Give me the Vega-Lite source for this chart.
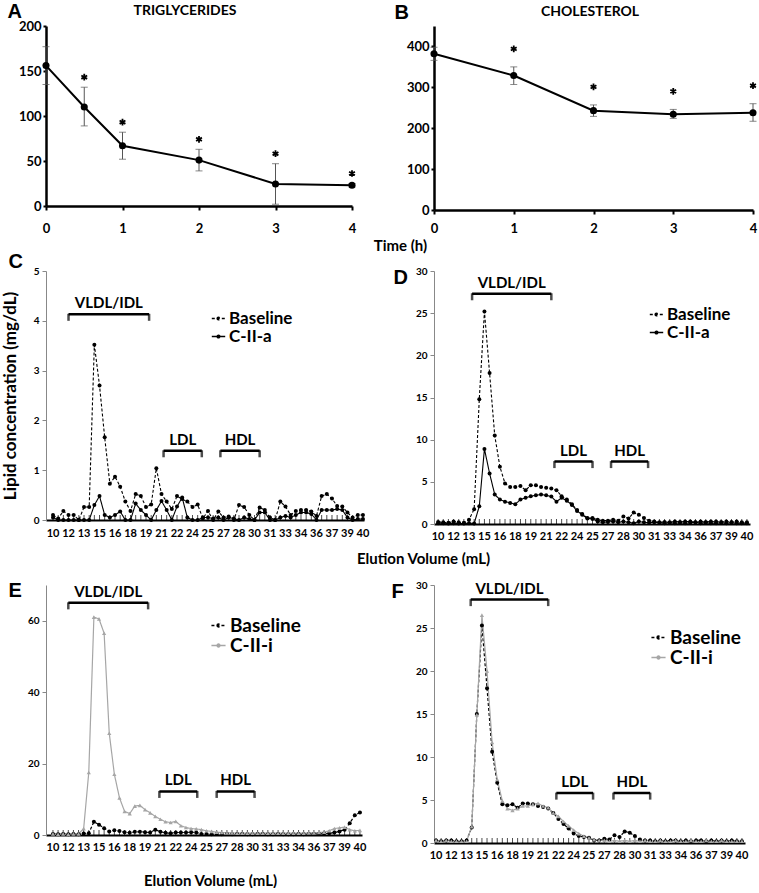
{
  "$schema": "https://vega.github.io/schema/vega-lite/v6.json",
  "autosize": {"type": "pad"},
  "padding": {"left": 1, "top": 1, "right": 0, "bottom": 0},
  "background": "white",
  "bounds": "flush",
  "columns": 2,
  "align": "each",
  "spacing": {"row": 61, "column": 70},
  "resolve": {
    "scale": {"color": "independent", "strokeDash": "independent"},
    "legend": {"color": "independent", "strokeDash": "independent"}
  },
  "config": {
    "view": {"stroke": null},
    "font": "Lato",
    "axis": {"labelFont": "Lato", "labelFontWeight": "bold", "labelColor": "#000", "titleFont": "Lato", "titleFontWeight": "bold", "titleColor": "#000", "grid": false, "domainColor": "#000", "tickColor": "#000"},
    "legend": {"labelFont": "Lato", "labelFontWeight": "bold", "labelColor": "#000"},
    "title": {"color": "#000"}
  },
  "datasets": {
    "tc": [
      {"panel": "A", "t": 0, "mean": 156, "lo": 135, "hi": 177},
      {"panel": "A", "t": 0.5, "mean": 110, "lo": 89, "hi": 132},
      {"panel": "A", "t": 1, "mean": 67, "lo": 52, "hi": 82},
      {"panel": "A", "t": 2, "mean": 51, "lo": 39, "hi": 63},
      {"panel": "A", "t": 3, "mean": 24.5, "lo": 2, "hi": 47},
      {"panel": "A", "t": 4, "mean": 23, "lo": 21, "hi": 25},
      {"panel": "B", "t": 0, "mean": 382, "lo": 366, "hi": 398},
      {"panel": "B", "t": 1, "mean": 329, "lo": 307, "hi": 350},
      {"panel": "B", "t": 2, "mean": 243, "lo": 229, "hi": 257},
      {"panel": "B", "t": 3, "mean": 234, "lo": 224, "hi": 246},
      {"panel": "B", "t": 4, "mean": 238, "lo": 217, "hi": 260}
    ],
    "C": [
      {"v": 10, "Baseline": 0.1, "C-II-a": 0.05}, {"v": 10.5, "Baseline": 0.03, "C-II-a": 0}, {"v": 11, "Baseline": 0.18, "C-II-a": 0}, {"v": 11.5, "Baseline": 0.1, "C-II-a": 0},
      {"v": 12, "Baseline": 0.1, "C-II-a": 0}, {"v": 12.5, "Baseline": 0, "C-II-a": 0}, {"v": 13, "Baseline": 0.26, "C-II-a": 0}, {"v": 13.5, "Baseline": 0.26, "C-II-a": 0},
      {"v": 14, "Baseline": 3.52, "C-II-a": 0.3}, {"v": 14.5, "Baseline": 2.7, "C-II-a": 0.48}, {"v": 15, "Baseline": 1.66, "C-II-a": 0.1}, {"v": 15.5, "Baseline": 0.73, "C-II-a": 0.05},
      {"v": 16, "Baseline": 0.87, "C-II-a": 0.1}, {"v": 16.5, "Baseline": 0.67, "C-II-a": 0.17}, {"v": 17, "Baseline": 0.37, "C-II-a": 0}, {"v": 17.5, "Baseline": 0.18, "C-II-a": 0},
      {"v": 18, "Baseline": 0.52, "C-II-a": 0.33}, {"v": 18.5, "Baseline": 0.48, "C-II-a": 0.2}, {"v": 19, "Baseline": 0.26, "C-II-a": 0.1}, {"v": 19.5, "Baseline": 0.31, "C-II-a": 0},
      {"v": 20, "Baseline": 1.04, "C-II-a": 0.2}, {"v": 20.5, "Baseline": 0.52, "C-II-a": 0.38}, {"v": 21, "Baseline": 0.37, "C-II-a": 0.2}, {"v": 21.5, "Baseline": 0.22, "C-II-a": 0},
      {"v": 22, "Baseline": 0.48, "C-II-a": 0.27}, {"v": 22.5, "Baseline": 0.42, "C-II-a": 0.45}, {"v": 23, "Baseline": 0.37, "C-II-a": 0.05}, {"v": 23.5, "Baseline": 0.26, "C-II-a": 0},
      {"v": 24, "Baseline": 0.31, "C-II-a": 0}, {"v": 24.5, "Baseline": 0.03, "C-II-a": 0.05}, {"v": 25, "Baseline": 0.18, "C-II-a": 0.05}, {"v": 25.5, "Baseline": 0, "C-II-a": 0.03},
      {"v": 26, "Baseline": 0.17, "C-II-a": 0.05}, {"v": 26.5, "Baseline": 0.05, "C-II-a": 0}, {"v": 27, "Baseline": 0.07, "C-II-a": 0.05}, {"v": 27.5, "Baseline": 0, "C-II-a": 0.03},
      {"v": 28, "Baseline": 0.3, "C-II-a": 0}, {"v": 28.5, "Baseline": 0.26, "C-II-a": 0.05}, {"v": 29, "Baseline": 0.1, "C-II-a": 0.02}, {"v": 29.5, "Baseline": 0, "C-II-a": 0},
      {"v": 30, "Baseline": 0.25, "C-II-a": 0.15}, {"v": 30.5, "Baseline": 0.2, "C-II-a": 0.15}, {"v": 31, "Baseline": 0.05, "C-II-a": 0}, {"v": 31.5, "Baseline": 0, "C-II-a": 0},
      {"v": 32, "Baseline": 0.37, "C-II-a": 0.05}, {"v": 32.5, "Baseline": 0.27, "C-II-a": 0.08}, {"v": 33, "Baseline": 0.1, "C-II-a": 0.05}, {"v": 33.5, "Baseline": 0.18, "C-II-a": 0.1},
      {"v": 34, "Baseline": 0.2, "C-II-a": 0.15}, {"v": 34.5, "Baseline": 0.2, "C-II-a": 0.15}, {"v": 35, "Baseline": 0.17, "C-II-a": 0.12}, {"v": 35.5, "Baseline": 0.08, "C-II-a": 0},
      {"v": 36, "Baseline": 0.48, "C-II-a": 0.2}, {"v": 36.5, "Baseline": 0.52, "C-II-a": 0.2}, {"v": 37, "Baseline": 0.43, "C-II-a": 0.2}, {"v": 37.5, "Baseline": 0.28, "C-II-a": 0.22},
      {"v": 38, "Baseline": 0.27, "C-II-a": 0.2}, {"v": 38.5, "Baseline": 0.15, "C-II-a": 0.05}, {"v": 39, "Baseline": 0.05, "C-II-a": 0}, {"v": 39.5, "Baseline": 0.1, "C-II-a": 0.02},
      {"v": 40, "Baseline": 0.1, "C-II-a": 0.02}
    ],
    "D": [
      {"v": 10, "Baseline": 0.25, "C-II-a": 0.1}, {"v": 10.5, "Baseline": 0.2, "C-II-a": 0.1}, {"v": 11, "Baseline": 0.15, "C-II-a": 0.05}, {"v": 11.5, "Baseline": 0.3, "C-II-a": 0.1},
      {"v": 12, "Baseline": 0.2, "C-II-a": 0.05}, {"v": 12.5, "Baseline": 0.15, "C-II-a": 0.05}, {"v": 13, "Baseline": 0.5, "C-II-a": 0.1}, {"v": 13.5, "Baseline": 1.75, "C-II-a": 0.05},
      {"v": 14, "Baseline": 14.8, "C-II-a": 2.1}, {"v": 14.5, "Baseline": 25.2, "C-II-a": 8.9}, {"v": 15, "Baseline": 17.9, "C-II-a": 6.0}, {"v": 15.5, "Baseline": 10.5, "C-II-a": 3.5},
      {"v": 16, "Baseline": 6.8, "C-II-a": 2.9}, {"v": 16.5, "Baseline": 4.8, "C-II-a": 2.65}, {"v": 17, "Baseline": 4.4, "C-II-a": 2.5}, {"v": 17.5, "Baseline": 4.4, "C-II-a": 2.35},
      {"v": 18, "Baseline": 4.5, "C-II-a": 2.9}, {"v": 18.5, "Baseline": 4.0, "C-II-a": 3.1}, {"v": 19, "Baseline": 4.6, "C-II-a": 3.3}, {"v": 19.5, "Baseline": 4.6, "C-II-a": 3.4},
      {"v": 20, "Baseline": 4.4, "C-II-a": 3.5}, {"v": 20.5, "Baseline": 4.3, "C-II-a": 3.4}, {"v": 21, "Baseline": 4.2, "C-II-a": 3.25}, {"v": 21.5, "Baseline": 4.0, "C-II-a": 2.65},
      {"v": 22, "Baseline": 3.3, "C-II-a": 3.1}, {"v": 22.5, "Baseline": 2.9, "C-II-a": 2.75}, {"v": 23, "Baseline": 2.35, "C-II-a": 2.25}, {"v": 23.5, "Baseline": 1.65, "C-II-a": 1.55},
      {"v": 24, "Baseline": 1.2, "C-II-a": 1.1}, {"v": 24.5, "Baseline": 0.7, "C-II-a": 0.65}, {"v": 25, "Baseline": 0.7, "C-II-a": 0.6}, {"v": 25.5, "Baseline": 0.5, "C-II-a": 0.3},
      {"v": 26, "Baseline": 0.4, "C-II-a": 0.2}, {"v": 26.5, "Baseline": 0.4, "C-II-a": 0.25}, {"v": 27, "Baseline": 0.5, "C-II-a": 0.3}, {"v": 27.5, "Baseline": 0.4, "C-II-a": 0.2},
      {"v": 28, "Baseline": 0.9, "C-II-a": 0.3}, {"v": 28.5, "Baseline": 0.65, "C-II-a": 0.2}, {"v": 29, "Baseline": 1.35, "C-II-a": 0.1}, {"v": 29.5, "Baseline": 1.1, "C-II-a": 0.3},
      {"v": 30, "Baseline": 0.7, "C-II-a": 0.2}, {"v": 30.5, "Baseline": 0.4, "C-II-a": 0.15}, {"v": 31, "Baseline": 0.3, "C-II-a": 0.2}, {"v": 31.5, "Baseline": 0.2, "C-II-a": 0.15},
      {"v": 32, "Baseline": 0.25, "C-II-a": 0.1}, {"v": 32.5, "Baseline": 0.2, "C-II-a": 0.15}, {"v": 33, "Baseline": 0.3, "C-II-a": 0.1}, {"v": 33.5, "Baseline": 0.25, "C-II-a": 0.15},
      {"v": 34, "Baseline": 0.3, "C-II-a": 0.1}, {"v": 34.5, "Baseline": 0.3, "C-II-a": 0.15}, {"v": 35, "Baseline": 0.2, "C-II-a": 0.2}, {"v": 35.5, "Baseline": 0.3, "C-II-a": 0.1},
      {"v": 36, "Baseline": 0.25, "C-II-a": 0.15}, {"v": 36.5, "Baseline": 0.3, "C-II-a": 0.1}, {"v": 37, "Baseline": 0.3, "C-II-a": 0.1}, {"v": 37.5, "Baseline": 0.25, "C-II-a": 0.15},
      {"v": 38, "Baseline": 0.3, "C-II-a": 0.1}, {"v": 38.5, "Baseline": 0.25, "C-II-a": 0.15}, {"v": 39, "Baseline": 0.3, "C-II-a": 0.1}, {"v": 39.5, "Baseline": 0.2, "C-II-a": 0.1},
      {"v": 40, "Baseline": 0.2, "C-II-a": 0.1}
    ],
    "E": [
      {"v": 10, "Baseline": 0.3, "C-II-i": 0.3}, {"v": 10.5, "Baseline": 0.2, "C-II-i": 0.2}, {"v": 11, "Baseline": 0.3, "C-II-i": 0.3}, {"v": 11.5, "Baseline": 0.2, "C-II-i": 0.2},
      {"v": 12, "Baseline": 0.3, "C-II-i": 0.3}, {"v": 12.5, "Baseline": 0.2, "C-II-i": 0.3}, {"v": 13, "Baseline": 0.4, "C-II-i": 1.8}, {"v": 13.5, "Baseline": 0.5, "C-II-i": 17.5},
      {"v": 14, "Baseline": 3.7, "C-II-i": 61}, {"v": 14.5, "Baseline": 2.9, "C-II-i": 60.5}, {"v": 15, "Baseline": 1.9, "C-II-i": 56.5}, {"v": 15.5, "Baseline": 1.0, "C-II-i": 28.5},
      {"v": 16, "Baseline": 1.3, "C-II-i": 17}, {"v": 16.5, "Baseline": 1.1, "C-II-i": 10.4}, {"v": 17, "Baseline": 0.8, "C-II-i": 6.6}, {"v": 17.5, "Baseline": 0.6, "C-II-i": 6.0},
      {"v": 18, "Baseline": 0.9, "C-II-i": 8.1}, {"v": 18.5, "Baseline": 0.9, "C-II-i": 8.3}, {"v": 19, "Baseline": 0.8, "C-II-i": 7.1}, {"v": 19.5, "Baseline": 0.7, "C-II-i": 6.2},
      {"v": 20, "Baseline": 1.5, "C-II-i": 5.2}, {"v": 20.5, "Baseline": 0.9, "C-II-i": 4.4}, {"v": 21, "Baseline": 0.6, "C-II-i": 3.7}, {"v": 21.5, "Baseline": 0.5, "C-II-i": 3.5},
      {"v": 22, "Baseline": 0.7, "C-II-i": 3.8}, {"v": 22.5, "Baseline": 0.7, "C-II-i": 2.6}, {"v": 23, "Baseline": 0.7, "C-II-i": 2.1}, {"v": 23.5, "Baseline": 0.8, "C-II-i": 1.8},
      {"v": 24, "Baseline": 0.7, "C-II-i": 1.7}, {"v": 24.5, "Baseline": 0.3, "C-II-i": 1.5}, {"v": 25, "Baseline": 0.3, "C-II-i": 1.2}, {"v": 25.5, "Baseline": 0.2, "C-II-i": 1.0},
      {"v": 26, "Baseline": 0.3, "C-II-i": 0.8}, {"v": 26.5, "Baseline": 0.2, "C-II-i": 0.7}, {"v": 27, "Baseline": 0.3, "C-II-i": 0.6}, {"v": 27.5, "Baseline": 0.2, "C-II-i": 0.6},
      {"v": 28, "Baseline": 0.3, "C-II-i": 0.5}, {"v": 28.5, "Baseline": 0.3, "C-II-i": 0.5}, {"v": 29, "Baseline": 0.2, "C-II-i": 0.5}, {"v": 29.5, "Baseline": 0.2, "C-II-i": 0.5},
      {"v": 30, "Baseline": 0.3, "C-II-i": 0.5}, {"v": 30.5, "Baseline": 0.3, "C-II-i": 0.5}, {"v": 31, "Baseline": 0.2, "C-II-i": 0.5}, {"v": 31.5, "Baseline": 0.2, "C-II-i": 0.5},
      {"v": 32, "Baseline": 0.3, "C-II-i": 0.5}, {"v": 32.5, "Baseline": 0.2, "C-II-i": 0.5}, {"v": 33, "Baseline": 0.2, "C-II-i": 0.5}, {"v": 33.5, "Baseline": 0.2, "C-II-i": 0.5},
      {"v": 34, "Baseline": 0.3, "C-II-i": 0.5}, {"v": 34.5, "Baseline": 0.2, "C-II-i": 0.5}, {"v": 35, "Baseline": 0.3, "C-II-i": 0.6}, {"v": 35.5, "Baseline": 0.3, "C-II-i": 0.6},
      {"v": 36, "Baseline": 0.3, "C-II-i": 0.7}, {"v": 36.5, "Baseline": 0.4, "C-II-i": 0.8}, {"v": 37, "Baseline": 0.5, "C-II-i": 1.2}, {"v": 37.5, "Baseline": 0.7, "C-II-i": 1.8},
      {"v": 38, "Baseline": 1.0, "C-II-i": 2.0}, {"v": 38.5, "Baseline": 1.5, "C-II-i": 2.2}, {"v": 39, "Baseline": 3.3, "C-II-i": 1.5}, {"v": 39.5, "Baseline": 5.5, "C-II-i": 1.2},
      {"v": 40, "Baseline": 6.3, "C-II-i": 1.3}
    ],
    "F": [
      {"v": 10, "Baseline": 0.3, "C-II-i": 0.3}, {"v": 10.5, "Baseline": 0.2, "C-II-i": 0.2}, {"v": 11, "Baseline": 0.3, "C-II-i": 0.3}, {"v": 11.5, "Baseline": 0.3, "C-II-i": 0.2},
      {"v": 12, "Baseline": 0.2, "C-II-i": 0.2}, {"v": 12.5, "Baseline": 0.2, "C-II-i": 0.2}, {"v": 13, "Baseline": 0.3, "C-II-i": 0.2}, {"v": 13.5, "Baseline": 1.8, "C-II-i": 1.9},
      {"v": 14, "Baseline": 15, "C-II-i": 14.9}, {"v": 14.5, "Baseline": 25.3, "C-II-i": 26.5}, {"v": 15, "Baseline": 18, "C-II-i": 20}, {"v": 15.5, "Baseline": 10.6, "C-II-i": 11.7},
      {"v": 16, "Baseline": 7.0, "C-II-i": 7.4}, {"v": 16.5, "Baseline": 4.5, "C-II-i": 4.9}, {"v": 17, "Baseline": 4.4, "C-II-i": 4.0}, {"v": 17.5, "Baseline": 4.5, "C-II-i": 3.8},
      {"v": 18, "Baseline": 4.1, "C-II-i": 4.0}, {"v": 18.5, "Baseline": 4.6, "C-II-i": 4.3}, {"v": 19, "Baseline": 4.6, "C-II-i": 4.3}, {"v": 19.5, "Baseline": 4.5, "C-II-i": 4.5},
      {"v": 20, "Baseline": 4.3, "C-II-i": 4.6}, {"v": 20.5, "Baseline": 4.2, "C-II-i": 4.3}, {"v": 21, "Baseline": 4.0, "C-II-i": 4.1}, {"v": 21.5, "Baseline": 3.5, "C-II-i": 3.5},
      {"v": 22, "Baseline": 2.8, "C-II-i": 3.1}, {"v": 22.5, "Baseline": 2.2, "C-II-i": 2.5}, {"v": 23, "Baseline": 1.7, "C-II-i": 2.0}, {"v": 23.5, "Baseline": 1.1, "C-II-i": 1.5},
      {"v": 24, "Baseline": 0.8, "C-II-i": 1.1}, {"v": 24.5, "Baseline": 0.7, "C-II-i": 0.8}, {"v": 25, "Baseline": 0.6, "C-II-i": 0.6}, {"v": 25.5, "Baseline": 0.3, "C-II-i": 0.4},
      {"v": 26, "Baseline": 0.3, "C-II-i": 0.3}, {"v": 26.5, "Baseline": 0.5, "C-II-i": 0.3}, {"v": 27, "Baseline": 0.4, "C-II-i": 0.2}, {"v": 27.5, "Baseline": 0.9, "C-II-i": 0.3},
      {"v": 28, "Baseline": 0.7, "C-II-i": 0.2}, {"v": 28.5, "Baseline": 1.35, "C-II-i": 0.3}, {"v": 29, "Baseline": 1.2, "C-II-i": 0.2}, {"v": 29.5, "Baseline": 0.8, "C-II-i": 0.3},
      {"v": 30, "Baseline": 0.4, "C-II-i": 0.2}, {"v": 30.5, "Baseline": 0.3, "C-II-i": 0.3}, {"v": 31, "Baseline": 0.3, "C-II-i": 0.2}, {"v": 31.5, "Baseline": 0.2, "C-II-i": 0.2},
      {"v": 32, "Baseline": 0.3, "C-II-i": 0.3}, {"v": 32.5, "Baseline": 0.2, "C-II-i": 0.2}, {"v": 33, "Baseline": 0.3, "C-II-i": 0.2}, {"v": 33.5, "Baseline": 0.3, "C-II-i": 0.3},
      {"v": 34, "Baseline": 0.2, "C-II-i": 0.2}, {"v": 34.5, "Baseline": 0.3, "C-II-i": 0.2}, {"v": 35, "Baseline": 0.2, "C-II-i": 0.3}, {"v": 35.5, "Baseline": 0.3, "C-II-i": 0.2},
      {"v": 36, "Baseline": 0.3, "C-II-i": 0.2}, {"v": 36.5, "Baseline": 0.2, "C-II-i": 0.3}, {"v": 37, "Baseline": 0.3, "C-II-i": 0.2}, {"v": 37.5, "Baseline": 0.2, "C-II-i": 0.2},
      {"v": 38, "Baseline": 0.3, "C-II-i": 0.3}, {"v": 38.5, "Baseline": 0.2, "C-II-i": 0.2}, {"v": 39, "Baseline": 0.3, "C-II-i": 0.2}, {"v": 39.5, "Baseline": 0.2, "C-II-i": 0.2},
      {"v": 40, "Baseline": 0.2, "C-II-i": 0.2}
    ]
  },
  "concat": [
    {
      "width": 306, "height": 180,
      "title": {"text": "TRIGLYCERIDES", "anchor": "middle", "frame": "group", "dx": -14, "offset": -28, "baseline": "alphabetic", "fontSize": 14, "font": "Lato", "fontWeight": "bold"},
      "data": {"name": "tc"},
      "transform": [{"filter": "datum.panel == 'A'"}],
      "layer": [
        {"mark": {"type": "rule", "color": "#555", "strokeWidth": 1},
         "encoding": {
           "x": {"field": "t", "type": "quantitative", "scale": {"domain": [0, 4], "nice": false}, "axis": {"values": [0, 1, 2, 3, 4], "format": "d", "title": "Time (h)", "titleX": 354, "titleY": 39, "titleBaseline": "middle", "titleFontSize": 15, "domainWidth": 2.5, "tickWidth": 2, "tickSize": 4, "labelFontSize": 13, "labelPadding": 12, "labelFlush": false}},
           "y": {"field": "lo", "type": "quantitative", "scale": {"domain": [0, 200], "nice": false}, "axis": {"values": [0, 50, 100, 150, 200], "title": "A", "titleAngle": 0, "titleX": -39, "titleY": -9, "titleAlign": "left", "titleBaseline": "alphabetic", "titleFont": "Liberation Sans", "titleFontSize": 20, "domainWidth": 2.5, "tickWidth": 2, "tickSize": 3, "labelFontSize": 13, "labelPadding": 2}},
           "y2": {"field": "hi"}}},
        {"mark": {"type": "tick", "color": "#555", "size": 7, "thickness": 1, "orient": "horizontal"},
         "encoding": {"x": {"field": "t", "type": "quantitative"}, "y": {"field": "lo", "type": "quantitative"}}},
        {"mark": {"type": "tick", "color": "#555", "size": 7, "thickness": 1, "orient": "horizontal"},
         "encoding": {"x": {"field": "t", "type": "quantitative"}, "y": {"field": "hi", "type": "quantitative"}}},
        {"mark": {"type": "line", "color": "#000", "strokeWidth": 2},
         "encoding": {"x": {"field": "t", "type": "quantitative"}, "y": {"field": "mean", "type": "quantitative"}}},
        {"mark": {"type": "point", "filled": true, "color": "#000", "size": 50, "opacity": 1},
         "encoding": {"x": {"field": "t", "type": "quantitative"}, "y": {"field": "mean", "type": "quantitative"}}},
        {"transform": [{"filter": "datum.t > 0"}],
         "mark": {"type": "point", "shape": "M0,-1L0,1M-0.87,-0.5L0.87,0.5M-0.87,0.5L0.87,-0.5", "filled": false, "size": 45, "strokeWidth": 1.8, "color": "#000", "opacity": 1, "yOffset": -10},
         "encoding": {"x": {"field": "t", "type": "quantitative"}, "y": {"field": "hi", "type": "quantitative"}}}
      ]
    },
    {
      "width": 319, "height": 184,
      "title": {"text": "CHOLESTEROL", "anchor": "middle", "frame": "group", "dx": -3.5, "offset": -28, "baseline": "alphabetic", "fontSize": 14, "font": "Lato", "fontWeight": "bold"},
      "data": {"name": "tc"},
      "transform": [{"filter": "datum.panel == 'B'"}],
      "layer": [
        {"mark": {"type": "rule", "color": "#555", "strokeWidth": 1},
         "encoding": {
           "x": {"field": "t", "type": "quantitative", "scale": {"domain": [0, 4], "nice": false}, "axis": {"values": [0, 1, 2, 3, 4], "format": "d", "title": null, "domainWidth": 2.5, "tickWidth": 2, "tickSize": 4, "labelFontSize": 13, "labelPadding": 8, "labelFlush": false}},
           "y": {"field": "lo", "type": "quantitative", "scale": {"domain": [0, 450], "nice": false}, "axis": {"values": [0, 50, 100, 150, 200, 250, 300, 350, 400, 450], "title": "B", "titleAngle": 0, "titleX": -40, "titleY": -8, "titleAlign": "left", "titleBaseline": "alphabetic", "titleFont": "Liberation Sans", "titleFontSize": 20, "domainWidth": 2.5, "tickWidth": 2, "tickSize": 3, "labelFontSize": 13, "labelPadding": 2}},
           "y2": {"field": "hi"}}},
        {"mark": {"type": "tick", "color": "#555", "size": 7, "thickness": 1, "orient": "horizontal"},
         "encoding": {"x": {"field": "t", "type": "quantitative"}, "y": {"field": "lo", "type": "quantitative"}}},
        {"mark": {"type": "tick", "color": "#555", "size": 7, "thickness": 1, "orient": "horizontal"},
         "encoding": {"x": {"field": "t", "type": "quantitative"}, "y": {"field": "hi", "type": "quantitative"}}},
        {"mark": {"type": "line", "color": "#000", "strokeWidth": 2},
         "encoding": {"x": {"field": "t", "type": "quantitative"}, "y": {"field": "mean", "type": "quantitative"}}},
        {"mark": {"type": "point", "filled": true, "color": "#000", "size": 50, "opacity": 1},
         "encoding": {"x": {"field": "t", "type": "quantitative"}, "y": {"field": "mean", "type": "quantitative"}}},
        {"transform": [{"filter": "datum.t > 0"}],
         "mark": {"type": "point", "shape": "M0,-1L0,1M-0.87,-0.5L0.87,0.5M-0.87,0.5L0.87,-0.5", "filled": false, "size": 45, "strokeWidth": 1.8, "color": "#000", "opacity": 1, "yOffset": -18},
         "encoding": {"x": {"field": "t", "type": "quantitative"}, "y": {"field": "hi", "type": "quantitative"}}}
      ]
    },
    {
      "width": 318, "height": 249,
      "layer": [
        {"data": {"name": "C"}, "transform": [{"fold": ["Baseline", "C-II-a"], "as": ["series", "c"]}],
         "mark": {"type": "line", "strokeWidth": 1.1},
         "encoding": {
           "x": {"field": "v", "type": "quantitative", "scale": {"domain": [9.32, 40.1], "nice": false, "zero": false}, "axis": {"labels": false, "ticks": false, "domainWidth": 1.8, "title": "C", "titleAngle": 0, "titleX": -38, "titleY": -253, "titleAlign": "left", "titleBaseline": "alphabetic", "titleFont": "Liberation Sans", "titleFontSize": 20}},
           "y": {"field": "c", "type": "quantitative", "scale": {"domain": [0, 5], "nice": false}, "axis": {"values": [0, 1, 2, 3, 4, 5], "domainColor": "#888", "tickColor": "#888", "tickSize": 4, "labelFontSize": 10, "labelPadding": 3, "title": "Lipid concentration (mg/dL)", "titleFontSize": 17, "titlePadding": 14}},
           "color": {"field": "series", "type": "nominal", "scale": {"domain": ["Baseline", "C-II-a"], "range": ["#000000", "#000000"]}, "legend": {"orient": "none", "legendX": 164, "legendY": 39, "title": null, "labelFontSize": 17, "symbolType": "M-1,0H1M-0.2,0A0.2,0.2,0,1,1,0.2,0A0.2,0.2,0,1,1,-0.2,0Z", "symbolSize": 180, "symbolStrokeWidth": 1.5, "rowPadding": 0, "labelOffset": 2}},
           "strokeDash": {"field": "series", "type": "nominal", "scale": {"domain": ["Baseline", "C-II-a"], "range": [[3, 2], [1, 0]]}, "legend": {"orient": "none", "legendX": 164, "legendY": 39, "title": null, "labelFontSize": 17, "symbolType": "M-1,0H1M-0.2,0A0.2,0.2,0,1,1,0.2,0A0.2,0.2,0,1,1,-0.2,0Z", "symbolSize": 180, "symbolStrokeWidth": 1.5, "rowPadding": 0, "labelOffset": 2}}
         }},
        {"data": {"name": "C"},
         "mark": {"type": "tick", "orient": "vertical", "size": 5, "thickness": 1, "yOffset": -2.5, "color": "#000"},
         "encoding": {"x": {"field": "v", "type": "quantitative"}, "y": {"datum": 0, "type": "quantitative"}}},
        {"data": {"name": "C"}, "transform": [{"filter": "round((datum.v - 10) * 2) % 3 == 0"}],
         "mark": {"type": "text", "fontSize": 11, "fontWeight": "bold", "font": "Lato", "color": "#000", "baseline": "middle", "dy": 14},
         "encoding": {"x": {"field": "v", "type": "quantitative"}, "y": {"datum": 0, "type": "quantitative"}, "text": {"field": "v", "type": "quantitative", "format": ".0f"}}},
        {"data": {"name": "C"}, "transform": [{"fold": ["Baseline", "C-II-a"], "as": ["series", "c"]}],
         "mark": {"type": "point", "filled": true, "size": 16, "opacity": 1, "color": "#000"},
         "encoding": {"x": {"field": "v", "type": "quantitative"}, "y": {"field": "c", "type": "quantitative"}}},
        {"data": {"values": [{"name": "VLDL/IDL", "from": 11.5, "to": 19.3}]},
         "transform": [{"calculate": "(datum.from + datum.to) / 2", "as": "mid"}],
         "encoding": {"y": {"datum": 4.13, "type": "quantitative"}},
         "layer": [
           {"mark": {"type": "rule", "strokeWidth": 2.5, "color": "#000"}, "encoding": {"x": {"field": "from", "type": "quantitative"}, "x2": {"field": "to"}}},
           {"mark": {"type": "tick", "orient": "vertical", "size": 7, "thickness": 2.5, "yOffset": 3, "color": "#000"}, "encoding": {"x": {"field": "from", "type": "quantitative"}}},
           {"mark": {"type": "tick", "orient": "vertical", "size": 7, "thickness": 2.5, "yOffset": 3, "color": "#000"}, "encoding": {"x": {"field": "to", "type": "quantitative"}}},
           {"mark": {"type": "text", "baseline": "bottom", "dy": -3, "fontSize": 15, "fontWeight": "bold", "font": "Lato", "color": "#000"}, "encoding": {"x": {"field": "mid", "type": "quantitative"}, "text": {"field": "name"}}}
         ]},
        {"data": {"values": [{"name": "LDL", "from": 20.7, "to": 24.4}, {"name": "HDL", "from": 26.2, "to": 30.0}]},
         "transform": [{"calculate": "(datum.from + datum.to) / 2", "as": "mid"}],
         "encoding": {"y": {"datum": 1.39, "type": "quantitative"}},
         "layer": [
           {"mark": {"type": "rule", "strokeWidth": 2.5, "color": "#000"}, "encoding": {"x": {"field": "from", "type": "quantitative"}, "x2": {"field": "to"}}},
           {"mark": {"type": "tick", "orient": "vertical", "size": 7, "thickness": 2.5, "yOffset": 3, "color": "#000"}, "encoding": {"x": {"field": "from", "type": "quantitative"}}},
           {"mark": {"type": "tick", "orient": "vertical", "size": 7, "thickness": 2.5, "yOffset": 3, "color": "#000"}, "encoding": {"x": {"field": "to", "type": "quantitative"}}},
           {"mark": {"type": "text", "baseline": "bottom", "dy": -3, "fontSize": 15, "fontWeight": "bold", "font": "Lato", "color": "#000"}, "encoding": {"x": {"field": "mid", "type": "quantitative"}, "text": {"field": "name"}}}
         ]}
      ]
    },
    {
      "width": 316, "height": 253,
      "layer": [
        {"data": {"name": "D"}, "transform": [{"fold": ["Baseline", "C-II-a"], "as": ["series", "c"]}],
         "mark": {"type": "line", "strokeWidth": 1.1},
         "encoding": {
           "x": {"field": "v", "type": "quantitative", "scale": {"domain": [9.6, 40.3], "nice": false, "zero": false}, "axis": {"labels": false, "ticks": false, "domainWidth": 1.8, "title": "Elution Volume (mL)", "titleX": -11, "titleY": 34, "titleBaseline": "middle", "titleFontSize": 15}},
           "y": {"field": "c", "type": "quantitative", "scale": {"domain": [0, 30], "nice": false}, "axis": {"values": [0, 5, 10, 15, 20, 25, 30], "domainColor": "#888", "tickColor": "#888", "tickSize": 4, "labelFontSize": 10, "labelPadding": 3, "title": "D", "titleAngle": 0, "titleX": -41, "titleY": 12, "titleAlign": "left", "titleBaseline": "alphabetic", "titleFont": "Liberation Sans", "titleFontSize": 20}},
           "color": {"field": "series", "type": "nominal", "scale": {"domain": ["Baseline", "C-II-a"], "range": ["#000000", "#000000"]}, "legend": {"orient": "none", "legendX": 214, "legendY": 35, "title": null, "labelFontSize": 17, "symbolType": "M-1,0H1M-0.2,0A0.2,0.2,0,1,1,0.2,0A0.2,0.2,0,1,1,-0.2,0Z", "symbolSize": 180, "symbolStrokeWidth": 1.5, "rowPadding": 0, "labelOffset": 2}},
           "strokeDash": {"field": "series", "type": "nominal", "scale": {"domain": ["Baseline", "C-II-a"], "range": [[3, 2], [1, 0]]}, "legend": {"orient": "none", "legendX": 214, "legendY": 35, "title": null, "labelFontSize": 17, "symbolType": "M-1,0H1M-0.2,0A0.2,0.2,0,1,1,0.2,0A0.2,0.2,0,1,1,-0.2,0Z", "symbolSize": 180, "symbolStrokeWidth": 1.5, "rowPadding": 0, "labelOffset": 2}}
         }},
        {"data": {"name": "D"},
         "mark": {"type": "tick", "orient": "vertical", "size": 5, "thickness": 1, "yOffset": -2.5, "color": "#000"},
         "encoding": {"x": {"field": "v", "type": "quantitative"}, "y": {"datum": 0, "type": "quantitative"}}},
        {"data": {"name": "D"}, "transform": [{"filter": "round((datum.v - 10) * 2) % 3 == 0"}],
         "mark": {"type": "text", "fontSize": 11, "fontWeight": "bold", "font": "Lato", "color": "#000", "baseline": "middle", "dy": 13},
         "encoding": {"x": {"field": "v", "type": "quantitative"}, "y": {"datum": 0, "type": "quantitative"}, "text": {"field": "v", "type": "quantitative", "format": ".0f"}}},
        {"data": {"name": "D"}, "transform": [{"fold": ["Baseline", "C-II-a"], "as": ["series", "c"]}],
         "mark": {"type": "point", "filled": true, "size": 16, "opacity": 1, "color": "#000"},
         "encoding": {"x": {"field": "v", "type": "quantitative"}, "y": {"field": "c", "type": "quantitative"}}},
        {"data": {"values": [{"name": "VLDL/IDL", "from": 13.3, "to": 21.0}]},
         "transform": [{"calculate": "(datum.from + datum.to) / 2", "as": "mid"}],
         "encoding": {"y": {"datum": 27.3, "type": "quantitative"}},
         "layer": [
           {"mark": {"type": "rule", "strokeWidth": 2.5, "color": "#000"}, "encoding": {"x": {"field": "from", "type": "quantitative"}, "x2": {"field": "to"}}},
           {"mark": {"type": "tick", "orient": "vertical", "size": 7, "thickness": 2.5, "yOffset": 3, "color": "#000"}, "encoding": {"x": {"field": "from", "type": "quantitative"}}},
           {"mark": {"type": "tick", "orient": "vertical", "size": 7, "thickness": 2.5, "yOffset": 3, "color": "#000"}, "encoding": {"x": {"field": "to", "type": "quantitative"}}},
           {"mark": {"type": "text", "baseline": "bottom", "dy": -3, "fontSize": 15, "fontWeight": "bold", "font": "Lato", "color": "#000"}, "encoding": {"x": {"field": "mid", "type": "quantitative"}, "text": {"field": "name"}}}
         ]},
        {"data": {"values": [{"name": "LDL", "from": 21.3, "to": 25.0}, {"name": "HDL", "from": 26.8, "to": 30.4}]},
         "transform": [{"calculate": "(datum.from + datum.to) / 2", "as": "mid"}],
         "encoding": {"y": {"datum": 7.4, "type": "quantitative"}},
         "layer": [
           {"mark": {"type": "rule", "strokeWidth": 2.5, "color": "#000"}, "encoding": {"x": {"field": "from", "type": "quantitative"}, "x2": {"field": "to"}}},
           {"mark": {"type": "tick", "orient": "vertical", "size": 7, "thickness": 2.5, "yOffset": 3, "color": "#000"}, "encoding": {"x": {"field": "from", "type": "quantitative"}}},
           {"mark": {"type": "tick", "orient": "vertical", "size": 7, "thickness": 2.5, "yOffset": 3, "color": "#000"}, "encoding": {"x": {"field": "to", "type": "quantitative"}}},
           {"mark": {"type": "text", "baseline": "bottom", "dy": -3, "fontSize": 15, "fontWeight": "bold", "font": "Lato", "color": "#000"}, "encoding": {"x": {"field": "mid", "type": "quantitative"}, "text": {"field": "name"}}}
         ]}
      ]
    },
    {
      "width": 316, "height": 250,
      "layer": [
        {"data": {"name": "E"}, "transform": [{"fold": ["Baseline", "C-II-i"], "as": ["series", "c"]}],
         "mark": {"type": "line", "strokeWidth": 1.2},
         "encoding": {
           "x": {"field": "v", "type": "quantitative", "scale": {"domain": [9.32, 40.2], "nice": false, "zero": false}, "axis": {"labels": false, "ticks": false, "domainWidth": 1.8, "title": "Elution Volume (mL)", "titleX": 164, "titleY": 45, "titleBaseline": "middle", "titleFontSize": 15}},
           "y": {"field": "c", "type": "quantitative", "scale": {"domain": [0, 70], "nice": false}, "axis": {"values": [0, 10, 20, 30, 40, 50, 60, 70], "domainColor": "#888", "tickColor": "#888", "tickSize": 4, "labelFontSize": 10, "labelPadding": 3, "title": "E", "titleAngle": 0, "titleX": -38, "titleY": 11, "titleAlign": "left", "titleBaseline": "alphabetic", "titleFont": "Liberation Sans", "titleFontSize": 20}},
           "color": {"field": "series", "type": "nominal", "scale": {"domain": ["Baseline", "C-II-i"], "range": ["#000000", "#a6a6a6"]}, "legend": {"orient": "none", "legendX": 163, "legendY": 31, "title": null, "labelFontSize": 19, "symbolType": "M-1,0H1M-0.2,0A0.2,0.2,0,1,1,0.2,0A0.2,0.2,0,1,1,-0.2,0Z", "symbolSize": 200, "symbolStrokeWidth": 1.5, "rowPadding": 0, "labelOffset": 2}},
           "strokeDash": {"field": "series", "type": "nominal", "scale": {"domain": ["Baseline", "C-II-i"], "range": [[3, 2], [1, 0]]}, "legend": {"orient": "none", "legendX": 163, "legendY": 31, "title": null, "labelFontSize": 19, "symbolType": "M-1,0H1M-0.2,0A0.2,0.2,0,1,1,0.2,0A0.2,0.2,0,1,1,-0.2,0Z", "symbolSize": 200, "symbolStrokeWidth": 1.5, "rowPadding": 0, "labelOffset": 2}}
         }},
        {"data": {"name": "E"},
         "mark": {"type": "tick", "orient": "vertical", "size": 5, "thickness": 1, "yOffset": -2.5, "color": "#000"},
         "encoding": {"x": {"field": "v", "type": "quantitative"}, "y": {"datum": 0, "type": "quantitative"}}},
        {"data": {"name": "E"}, "transform": [{"filter": "round((datum.v - 10) * 2) % 3 == 0"}],
         "mark": {"type": "text", "fontSize": 11, "fontWeight": "bold", "font": "Lato", "color": "#000", "baseline": "middle", "dy": 13},
         "encoding": {"x": {"field": "v", "type": "quantitative"}, "y": {"datum": 0, "type": "quantitative"}, "text": {"field": "v", "type": "quantitative", "format": ".0f"}}},
        {"data": {"name": "E"},
         "mark": {"type": "point", "filled": true, "size": 16, "opacity": 1, "color": "#000", "shape": "circle"},
         "encoding": {"x": {"field": "v", "type": "quantitative"}, "y": {"field": "Baseline", "type": "quantitative"}}},
        {"data": {"name": "E"},
         "mark": {"type": "point", "filled": true, "size": 18, "opacity": 1, "color": "#a6a6a6", "shape": "triangle-up"},
         "encoding": {"x": {"field": "v", "type": "quantitative"}, "y": {"field": "C-II-i", "type": "quantitative"}}},
        {"data": {"values": [{"name": "VLDL/IDL", "from": 11.5, "to": 19.3}]},
         "transform": [{"calculate": "(datum.from + datum.to) / 2", "as": "mid"}],
         "encoding": {"y": {"datum": 65, "type": "quantitative"}},
         "layer": [
           {"mark": {"type": "rule", "strokeWidth": 2.5, "color": "#000"}, "encoding": {"x": {"field": "from", "type": "quantitative"}, "x2": {"field": "to"}}},
           {"mark": {"type": "tick", "orient": "vertical", "size": 7, "thickness": 2.5, "yOffset": 3, "color": "#000"}, "encoding": {"x": {"field": "from", "type": "quantitative"}}},
           {"mark": {"type": "tick", "orient": "vertical", "size": 7, "thickness": 2.5, "yOffset": 3, "color": "#000"}, "encoding": {"x": {"field": "to", "type": "quantitative"}}},
           {"mark": {"type": "text", "baseline": "bottom", "dy": -3, "fontSize": 15, "fontWeight": "bold", "font": "Lato", "color": "#000"}, "encoding": {"x": {"field": "mid", "type": "quantitative"}, "text": {"field": "name"}}}
         ]},
        {"data": {"values": [{"name": "LDL", "from": 20.4, "to": 24.1}, {"name": "HDL", "from": 26.0, "to": 29.7}]},
         "transform": [{"calculate": "(datum.from + datum.to) / 2", "as": "mid"}],
         "encoding": {"y": {"datum": 12.2, "type": "quantitative"}},
         "layer": [
           {"mark": {"type": "rule", "strokeWidth": 2.5, "color": "#000"}, "encoding": {"x": {"field": "from", "type": "quantitative"}, "x2": {"field": "to"}}},
           {"mark": {"type": "tick", "orient": "vertical", "size": 7, "thickness": 2.5, "yOffset": 3, "color": "#000"}, "encoding": {"x": {"field": "from", "type": "quantitative"}}},
           {"mark": {"type": "tick", "orient": "vertical", "size": 7, "thickness": 2.5, "yOffset": 3, "color": "#000"}, "encoding": {"x": {"field": "to", "type": "quantitative"}}},
           {"mark": {"type": "text", "baseline": "bottom", "dy": -3, "fontSize": 15, "fontWeight": "bold", "font": "Lato", "color": "#000"}, "encoding": {"x": {"field": "mid", "type": "quantitative"}, "text": {"field": "name"}}}
         ]}
      ]
    },
    {
      "width": 311, "height": 258,
      "layer": [
        {"data": {"name": "F"}, "transform": [{"fold": ["Baseline", "C-II-i"], "as": ["series", "c"]}],
         "mark": {"type": "line", "strokeWidth": 1.2},
         "encoding": {
           "x": {"field": "v", "type": "quantitative", "scale": {"domain": [9.8, 40.3], "nice": false, "zero": false}, "axis": {"labels": false, "ticks": false, "domainWidth": 1.8, "title": null}},
           "y": {"field": "c", "type": "quantitative", "scale": {"domain": [0, 30], "nice": false}, "axis": {"values": [0, 5, 10, 15, 20, 25, 30], "domainColor": "#888", "tickColor": "#888", "tickSize": 4, "labelFontSize": 10, "labelPadding": 3, "title": "F", "titleAngle": 0, "titleX": -43, "titleY": 12, "titleAlign": "left", "titleBaseline": "alphabetic", "titleFont": "Liberation Sans", "titleFontSize": 20}},
           "color": {"field": "series", "type": "nominal", "scale": {"domain": ["Baseline", "C-II-i"], "range": ["#000000", "#a6a6a6"]}, "legend": {"orient": "none", "legendX": 215, "legendY": 43, "title": null, "labelFontSize": 19, "symbolType": "M-1,0H1M-0.2,0A0.2,0.2,0,1,1,0.2,0A0.2,0.2,0,1,1,-0.2,0Z", "symbolSize": 200, "symbolStrokeWidth": 1.5, "rowPadding": 0, "labelOffset": 2}},
           "strokeDash": {"field": "series", "type": "nominal", "scale": {"domain": ["Baseline", "C-II-i"], "range": [[3, 2], [1, 0]]}, "legend": {"orient": "none", "legendX": 215, "legendY": 43, "title": null, "labelFontSize": 19, "symbolType": "M-1,0H1M-0.2,0A0.2,0.2,0,1,1,0.2,0A0.2,0.2,0,1,1,-0.2,0Z", "symbolSize": 200, "symbolStrokeWidth": 1.5, "rowPadding": 0, "labelOffset": 2}}
         }},
        {"data": {"name": "F"},
         "mark": {"type": "tick", "orient": "vertical", "size": 5, "thickness": 1, "yOffset": -2.5, "color": "#000"},
         "encoding": {"x": {"field": "v", "type": "quantitative"}, "y": {"datum": 0, "type": "quantitative"}}},
        {"data": {"name": "F"}, "transform": [{"filter": "round((datum.v - 10) * 2) % 3 == 0"}],
         "mark": {"type": "text", "fontSize": 11, "fontWeight": "bold", "font": "Lato", "color": "#000", "baseline": "middle", "dy": 13},
         "encoding": {"x": {"field": "v", "type": "quantitative"}, "y": {"datum": 0, "type": "quantitative"}, "text": {"field": "v", "type": "quantitative", "format": ".0f"}}},
        {"data": {"name": "F"},
         "mark": {"type": "point", "filled": true, "size": 16, "opacity": 1, "color": "#000", "shape": "circle"},
         "encoding": {"x": {"field": "v", "type": "quantitative"}, "y": {"field": "Baseline", "type": "quantitative"}}},
        {"data": {"name": "F"},
         "mark": {"type": "point", "filled": true, "size": 18, "opacity": 1, "color": "#a6a6a6", "shape": "triangle-up"},
         "encoding": {"x": {"field": "v", "type": "quantitative"}, "y": {"field": "C-II-i", "type": "quantitative"}}},
        {"data": {"values": [{"name": "VLDL/IDL", "from": 13.4, "to": 21.0}]},
         "transform": [{"calculate": "(datum.from + datum.to) / 2", "as": "mid"}],
         "encoding": {"y": {"datum": 28.3, "type": "quantitative"}},
         "layer": [
           {"mark": {"type": "rule", "strokeWidth": 2.5, "color": "#000"}, "encoding": {"x": {"field": "from", "type": "quantitative"}, "x2": {"field": "to"}}},
           {"mark": {"type": "tick", "orient": "vertical", "size": 7, "thickness": 2.5, "yOffset": 3, "color": "#000"}, "encoding": {"x": {"field": "from", "type": "quantitative"}}},
           {"mark": {"type": "tick", "orient": "vertical", "size": 7, "thickness": 2.5, "yOffset": 3, "color": "#000"}, "encoding": {"x": {"field": "to", "type": "quantitative"}}},
           {"mark": {"type": "text", "baseline": "bottom", "dy": -3, "fontSize": 15, "fontWeight": "bold", "font": "Lato", "color": "#000"}, "encoding": {"x": {"field": "mid", "type": "quantitative"}, "text": {"field": "name"}}}
         ]},
        {"data": {"values": [{"name": "LDL", "from": 21.8, "to": 25.4}, {"name": "HDL", "from": 27.4, "to": 31.0}]},
         "transform": [{"calculate": "(datum.from + datum.to) / 2", "as": "mid"}],
         "encoding": {"y": {"datum": 5.8, "type": "quantitative"}},
         "layer": [
           {"mark": {"type": "rule", "strokeWidth": 2.5, "color": "#000"}, "encoding": {"x": {"field": "from", "type": "quantitative"}, "x2": {"field": "to"}}},
           {"mark": {"type": "tick", "orient": "vertical", "size": 7, "thickness": 2.5, "yOffset": 3, "color": "#000"}, "encoding": {"x": {"field": "from", "type": "quantitative"}}},
           {"mark": {"type": "tick", "orient": "vertical", "size": 7, "thickness": 2.5, "yOffset": 3, "color": "#000"}, "encoding": {"x": {"field": "to", "type": "quantitative"}}},
           {"mark": {"type": "text", "baseline": "bottom", "dy": -3, "fontSize": 15, "fontWeight": "bold", "font": "Lato", "color": "#000"}, "encoding": {"x": {"field": "mid", "type": "quantitative"}, "text": {"field": "name"}}}
         ]}
      ]
    }
  ]
}
